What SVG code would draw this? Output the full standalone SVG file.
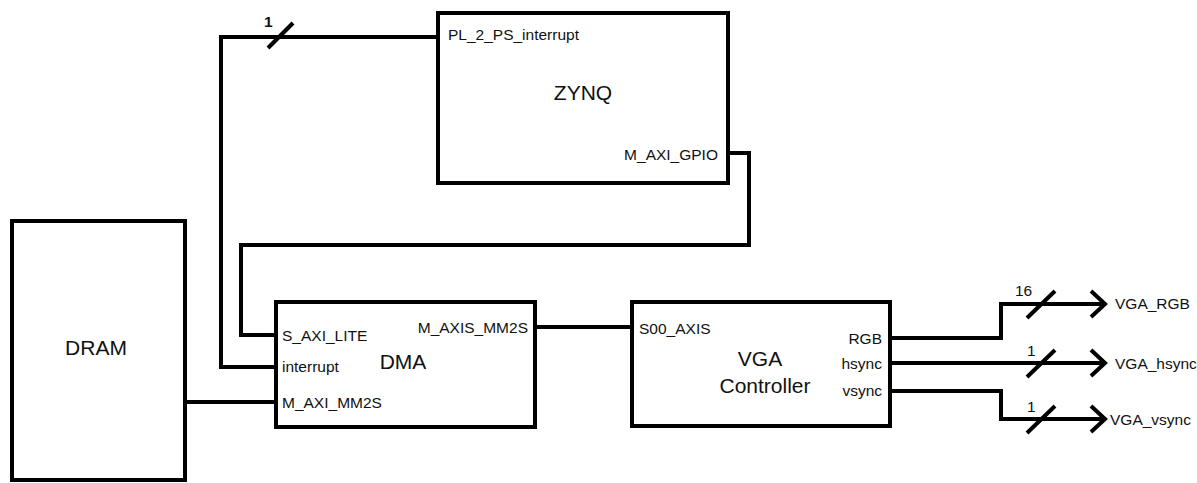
<svg xmlns="http://www.w3.org/2000/svg" width="1197" height="483" viewBox="0 0 1197 483">
<defs>
<style>
.box{fill:#fff;stroke:#000;stroke-width:4}
.w{fill:none;stroke:#000;stroke-width:4;stroke-linejoin:miter}
.t{font-family:"Liberation Sans",Arial,sans-serif;font-size:15.5px;fill:#111}
.big{font-family:"Liberation Sans",Arial,sans-serif;font-size:21px;fill:#111}
</style>
<marker id="arr" viewBox="0 0 20 30" refX="17" refY="15" markerWidth="20" markerHeight="30" markerUnits="userSpaceOnUse" orient="auto">
<path d="M3,2 L17,15 L3,28" fill="none" stroke="#000" stroke-width="4"/>
</marker>
</defs>
<rect width="1197" height="483" fill="#fff"/>
<g id="connectors">
<path class="w" d="M438,37 H221 V367 H277"/>
<path class="w" d="M268,48 L293,23"/>
<text class="t" x="264" y="27" font-size="13" font-weight="bold">1</text>
<path class="w" d="M728,153 H749 V245 H241 V335 H277"/>
<path class="w" d="M185,402 H277" stroke-width="3"/>
<path class="w" d="M534,327 H632" stroke-width="3"/>
<path class="w" d="M890,338 H1001 V304 H1105" marker-end="url(#arr)"/>
<path class="w" d="M1027,318 L1055,291"/>
<text class="t" x="1015" y="296" font-size="18">16</text>
<path class="w" d="M1027,377 L1055,350"/>
<path class="w" d="M890,363 H1105" marker-end="url(#arr)"/>
<text class="t" x="1027" y="356" font-size="14">1</text>
<path class="w" d="M890,391 H1001 V419 H1105" marker-end="url(#arr)"/>
<path class="w" d="M1027,433 L1055,406"/>
<text class="t" x="1027" y="412" font-size="14">1</text>
<text class="t" x="1115" y="309">VGA_RGB</text>
<text class="t" x="1115" y="369">VGA_hsync</text>
<text class="t" x="1110" y="425">VGA_vsync</text>
</g>
<g id="zynq">
<rect class="box" x="438" y="13" width="290" height="170"/>
<text class="t" x="448" y="40">PL_2_PS_interrupt</text>
<text class="big" x="583" y="100" text-anchor="middle">ZYNQ</text>
<text class="t" x="718" y="160" text-anchor="end">M_AXI_GPIO</text>
</g>
<g id="dram">
<rect class="box" x="12" y="221" width="173" height="259"/>
<text class="big" x="96" y="355" text-anchor="middle">DRAM</text>
</g>
<g id="dma">
<rect class="box" x="276" y="302" width="259" height="125"/>
<text class="t" x="282" y="341">S_AXI_LITE</text>
<text class="t" x="282" y="372">interrupt</text>
<text class="t" x="282" y="408">M_AXI_MM2S</text>
<text class="big" x="403" y="369" text-anchor="middle">DMA</text>
<text class="t" x="528" y="333" text-anchor="end">M_AXIS_MM2S</text>
</g>
<g id="vga">
<rect class="box" x="632" y="302" width="258" height="124"/>
<text class="t" x="639" y="334">S00_AXIS</text>
<text class="big" x="760" y="366" text-anchor="middle">VGA</text>
<text class="big" x="765" y="393" text-anchor="middle">Controller</text>
<text class="t" x="882" y="344" text-anchor="end">RGB</text>
<text class="t" x="882" y="369" text-anchor="end">hsync</text>
<text class="t" x="882" y="396" text-anchor="end">vsync</text>
</g>
</svg>
